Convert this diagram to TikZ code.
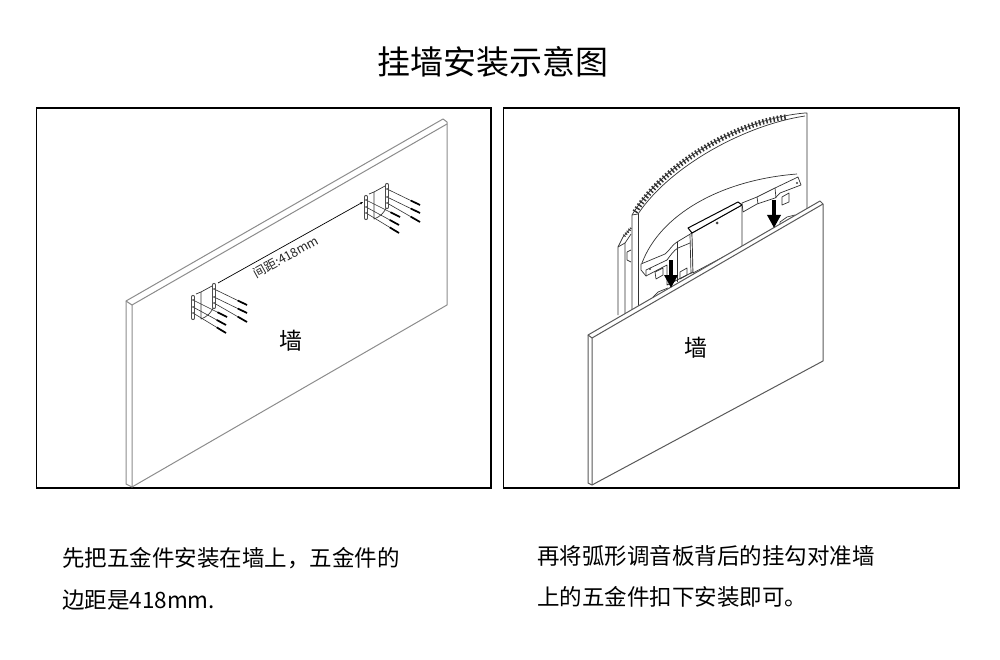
\documentclass[tikz,border=0pt]{standalone}
\usepackage{fontspec}
\setmainfont{Noto Sans CJK SC}
\usetikzlibrary{arrows.meta,calc}
\definecolor{wallgray}{gray}{0.55}
\definecolor{labelgray}{gray}{0.15}
\tikzset{
    frame/.style={draw=black, line width=1.1pt},
    wall/.style={draw=wallgray, line width=1pt, fill=white, line join=round},
    thin part/.style={draw=black!80, line width=0.7pt, line join=round},
    plate/.style={draw=black!70, line width=4.2pt, line cap=round},
    caption/.style={anchor=west, inner sep=0pt, font=\fontsize{22.5}{27}\selectfont},
    wall label/.style={font=\fontsize{23}{28}\selectfont},
    push/.style={-{Triangle[length=13pt,width=13pt]}, line width=3.6pt, draw=black}
}
\begin{document}
\begin{tikzpicture}[x=1pt,y=-1pt]
    \useasboundingbox (0,0) rectangle (1000,660);
    \node (title) at (493,62) {\fontsize{33}{40}\selectfont 挂墙安装示意图};
    \draw[frame] (36.5,108) rectangle (491,488);
    \draw[frame] (503.5,108) rectangle (959,488);

    % left wall
    \draw[wall] (126,301) -- (443,119) -- (447,122) -- (447,305) -- (132,487) -- (126,484) -- cycle;
    \draw[wall, fill=none] (132,487) -- (132,305) -- (447,124);
    \draw[wall, fill=none] (126,301) -- (132,305);

    % brackets and screws
    \foreach \dx/\dy in {0/0,173/-100}{
        \begin{scope}[shift={(\dx,\dy)}]
            \foreach \hx/\hy/\tx/\ty in {214/289/247/305,214/297/247/313,214/303/247/322,193/300/227/317,193/307/226/325,193/313/226/333}{
                \draw[thin part, line width=0.6pt] (\hx,\hy) -- (\tx,\ty);
                \draw[line width=1.7pt, black] ($(\hx,\hy)!0.72!(\tx,\ty)$) -- (\tx,\ty);
            }
            \draw[thin part] (196,294) -- (201,292) -- (212,286);
            \draw[thin part] (201,292) -- (201,319) .. controls (207,317) and (212,312) .. (214,306);
            \draw[plate] (193,297) -- (193,318);
            \draw[white, line width=2.6pt, line cap=round] (193,297) -- (193,318);
            \draw[plate] (214,285) -- (214,307);
            \draw[white, line width=2.6pt, line cap=round] (214,285) -- (214,307);
            \foreach \hx/\hy in {214/289,214/297,214/303,193/300,193/307,193/313}{
                \fill[black!75] (\hx,\hy) circle (1pt);
            }
        \end{scope}
    }

    % spacing between the brackets
    \coordinate (bracketa) at (218,283);
    \coordinate (bracketb) at (363,202);
    \draw[-{Stealth[length=3pt]}, line width=0.7pt] (bracketa) -- (bracketb);
    \node[rotate=29, inner sep=0pt, text=labelgray, font=\fontsize{12.5}{15}\selectfont] (gap) at (286,257) {间距:418mm};
    \node[wall label] (walla) at (291,341) {墙};

    % panel behind
    \draw[thin part] (618,315) -- (618,247) -- (623,237) -- (631,228);
    \draw[thin part] (625,313) -- (625,243) -- (631,234);
    \draw[thin part] (618,247) -- (625,243);
    \draw[black!80, line width=3pt, dash pattern=on 1pt off 1.6pt] (624,236) -- (631,228);
    \draw[thin part] (627,252) -- (631,250) (627,252) -- (627,260) -- (631,262);

    % curved panel
    \draw[thin part, fill=white] (632,312) -- (632,215) .. controls (665,160) and (745,118) .. (805,113) -- (807,113) -- (807,210) -- cycle;
    \draw[thin part] (638,312) -- (638,214);
    \draw[thin part] (632,215) -- (638,214) .. controls (670,166) and (745,125) .. (805,116);
    \draw[black!80, line width=5.5pt, dash pattern=on 1.5pt off 2.2pt] (635,212) .. controls (667,161) and (740,122) .. (787,117);

    % hanging bar
    \draw[thin part] (642,263) .. controls (660,215) and (720,180) .. (797,174);
    \draw[thin part, fill=white] (641,264) -- (665,254) .. controls (670,250) and (672,245) .. (677,242) -- (692,233)
        -- (693,272) -- (667,285) -- (667,265) -- (646,276) -- (641,270) -- cycle;
    \draw[thin part] (646,276) -- (646,270) -- (667,260) .. controls (670,256) and (674,250) .. (678,248) -- (690,243);
    \draw[thin part] (677,242) -- (677,282);
    \draw[thin part] (690,235) -- (691,274);
    \draw[thin part, fill=white] (655,272) -- (663,268) -- (663,275) -- (656,279) -- cycle;
    \draw[thin part] (680,272) -- (687,268) -- (687,275) -- (680,279) -- cycle;
    \fill[black!75] (650,269) circle (1.2pt);

    \draw[thin part, fill=white] (692,233) -- (742,205) -- (742,247) -- (693,273) -- cycle;
    \draw[black, line width=1pt, fill=white, line join=round] (688,228) -- (738,202) -- (742,205) -- (692,233) -- cycle;
    \fill[black!75] (717,223) circle (1.5pt);

    \draw[thin part, fill=white] (742,203) -- (757,197) -- (775,188) -- (798,177) -- (801,185) -- (780,193) -- (775,198) -- (757,204) -- (743,212) -- cycle;
    \draw[thin part] (757,197) -- (758,204);
    \draw[thin part] (775,188) -- (776,198);
    \draw[thin part, fill=white] (782,197) -- (789,193) -- (789,202) -- (782,205) -- cycle;
    \fill[black!75] (797,183) circle (1.2pt);

    % hooks on the right wall
    \draw[thin part] (653,299) -- (653,297) -- (658,292) -- (668,288);
    \draw[thin part] (780,224) -- (780,222) -- (787,217) -- (795,215);

    % right wall
    \draw[wall, draw=black!65] (588,335) -- (820,201) -- (823,204) -- (823,361) -- (592,485) -- (588,483) -- cycle;
    \draw[wall, draw=black!65, fill=none] (592,485) -- (592,338) -- (823,204);
    \draw[wall, draw=black!65, fill=none] (588,335) -- (592,338);

    % drop arrows
    \coordinate (dropa) at (671,260);
    \coordinate (dropb) at (671,288);
    \coordinate (dropc) at (774,200);
    \coordinate (dropd) at (774,228);
    \draw[push] (dropa) -- (dropb);
    \draw[push] (dropc) -- (dropd);

    \node[wall label] (wallb) at (696,348) {墙};

    \node[caption] (texta) at (62,558) {先把五金件安装在墙上，五金件的};
    \node[caption] (textb) at (62,600) {边距是418mm.};
    \node[caption] (textc) at (537,556) {再将弧形调音板背后的挂勾对准墙};
    \node[caption] (textd) at (537,597) {上的五金件扣下安装即可。};
\end{tikzpicture}
\end{document}
